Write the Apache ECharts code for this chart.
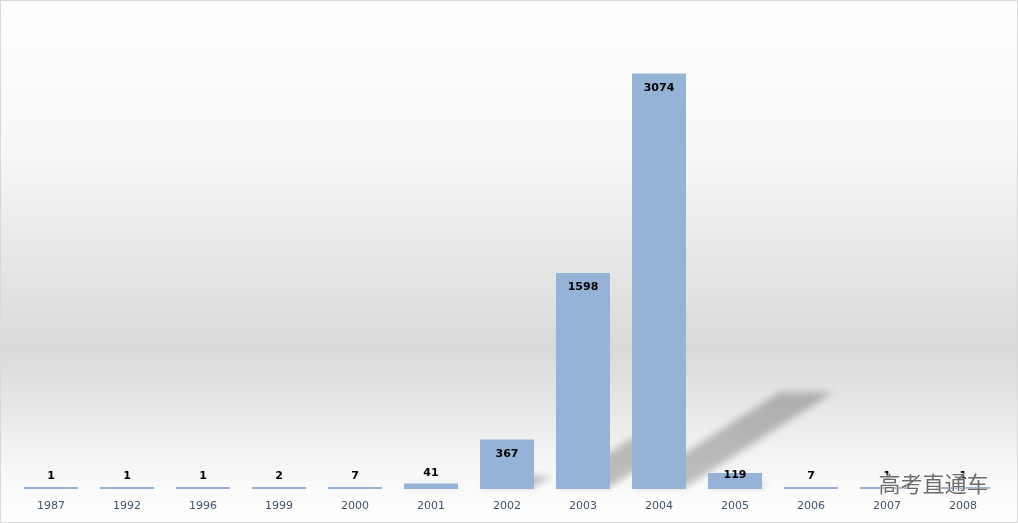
<!DOCTYPE html>
<html><head><meta charset="utf-8">
<script src="https://cdn.jsdelivr.net/npm/echarts@6/dist/echarts.min.js"></script>
<style>html,body{margin:0;padding:0;background:#fff}#c{width:1018px;height:523px;box-sizing:border-box;border:1px solid #d9d9d9}</style>
</head><body><div id="c"></div>
<script>
const years = ['1987','1992','1996','1999','2000','2001','2002','2003','2004','2005','2006','2007','2008'];
const counts = [1,1,1,2,7,41,367,1598,3074,119,7,1,1];

function labelFor(v) {
  if (v >= 300) return {position: 'insideTop', distance: 9};
  if (v >= 100) return {position: 'top', distance: -8};
  return {position: 'top', distance: 5};
}

const chart = echarts.init(document.getElementById('c'));
const OFF = 3000;
chart.setOption({
  backgroundColor: {
    type: 'linear', x: 0, y: 0, x2: 0, y2: 1,
    colorStops: [
      {offset: 0, color: '#ffffff'},
      {offset: 0.3, color: '#f6f6f6'},
      {offset: 0.67, color: '#d9d9d9'},
      {offset: 0.9, color: '#f7f7f7'},
      {offset: 1, color: '#ffffff'}
    ]
  },
  animation: false,
  grid: {left: 12, right: 16, top: 15, bottom: 33},
  xAxis: {
    type: 'category', data: years,
    axisLine: {show: false}, axisTick: {show: false},
    axisLabel: {color: '#44546a', fontSize: 11, fontFamily: 'DejaVu Sans', margin: 12}
  },
  yAxis: {type: 'value', min: 0, max: 3500, show: false, splitLine: {show: false}},
  series: [
    {
      type: 'custom', z: 1, silent: true, clip: false,
      data: counts.map((v, i) => [i, v]),
      renderItem: function (params, api) {
        const base = api.coord([api.value(0), 0]);
        const top = api.coord([api.value(0), api.value(1)]);
        const h = base[1] - top[1];
        const w = 54;
        const x0 = base[0] - w / 2 - OFF, x1 = base[0] + w / 2 - OFF;
        const dx = h * 0.355, dy = h * 0.228;
        const b = base[1] - 2;
        return {
          type: 'polygon',
          shape: {points: [[x0, b], [x1, b], [x1 + dx, b - dy], [x0 + dx, b - dy]]},
          style: {fill: '#000', shadowBlur: 7, shadowColor: 'rgba(0,0,0,0.24)', shadowOffsetX: OFF, shadowOffsetY: 0}
        };
      }
    },
    {
      type: 'bar', z: 2, barWidth: 54, barMinHeight: 2,
      data: counts.map(v => ({value: v, label: labelFor(v)})),
      itemStyle: {color: '#95b3d7'},
      label: {show: true, color: '#000', fontWeight: 'bold', fontSize: 11, fontFamily: 'DejaVu Sans'}
    }
  ],
  graphic: [{
    type: 'text', right: 28, top: 471, z: 10,
    style: {text: '高考直通车', font: '22px "Noto Sans CJK SC"', fill: '#6b6b6b', stroke: '#ffffff', lineWidth: 1}
  }]
});
</script></body></html>
